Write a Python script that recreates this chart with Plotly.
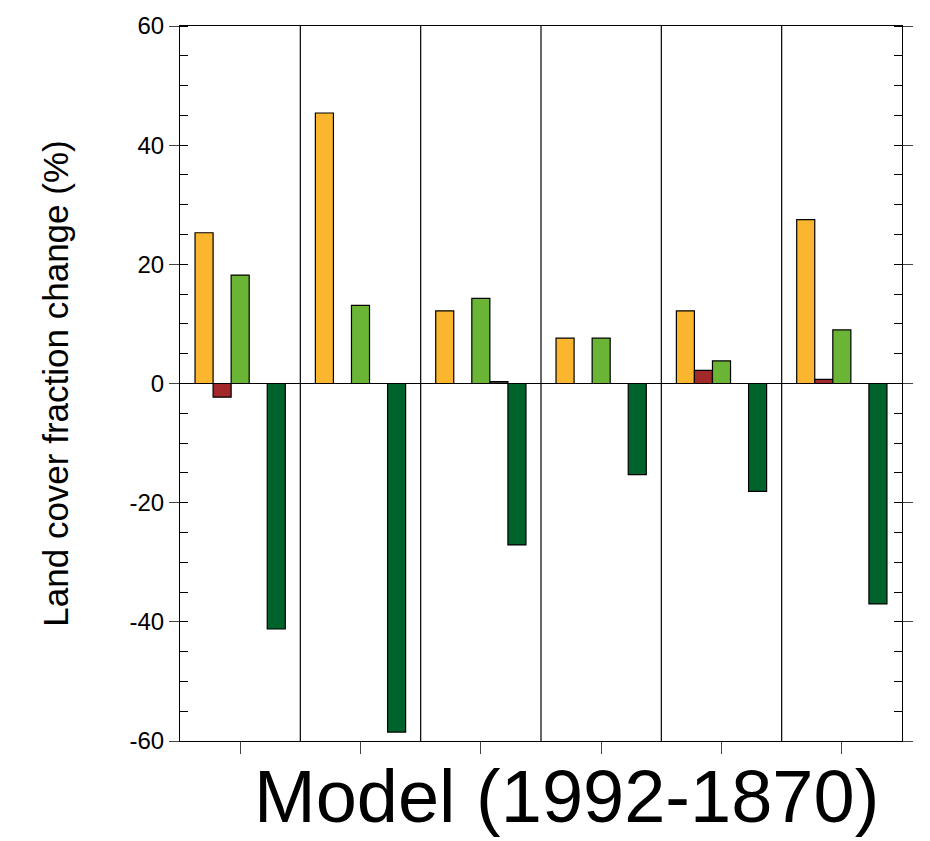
import plotly.graph_objects as go

groups = [0, 1, 2, 3, 4, 5]
orange = [25.3, 45.4, 12.2, 7.6, 12.2, 27.5]
red = [-2.3, 0.0, 0.0, 0.0, 2.2, 0.7]
light_green = [18.2, 13.1, 14.3, 7.6, 3.8, 9.0]
other = [0.0, 0.0, 0.3, 0.0, 0.0, 0.0]
dark_green = [-41.2, -58.5, -27.1, -15.3, -18.1, -37.0]
y_ticks = [-60, -40, -20, 0, 20, 40, 60]

fig = go.Figure()
for vals, col in [(orange, '#fbb52f'), (red, '#a3282a'), (light_green, '#6ab536'),
                  (other, '#444444'), (dark_green, '#00632c')]:
    fig.add_trace(go.Bar(x=groups, y=vals, marker=dict(color=col, line=dict(color='black', width=1.2)),
                         showlegend=False))

for b in [0.5, 1.5, 2.5, 3.5, 4.5]:
    fig.add_vline(x=b, line=dict(color='black', width=1.2))
fig.add_hline(y=0, line=dict(color='black', width=1.2))

# page is drawn 8px in from the corner, so margins compensate
fig.update_layout(
    width=930, height=841, barmode='group', bargap=0.25, bargroupgap=0,
    plot_bgcolor='white', paper_bgcolor='white',
    margin=dict(l=172, r=36, t=18, b=108, autoexpand=False),
    font=dict(family='Liberation Sans, Arial', color='black'),
)
fig.update_xaxes(range=[-0.5, 5.5], tickvals=groups, ticktext=['']*6, ticks='outside', ticklen=12,
                 showline=True, linecolor='black', linewidth=1.2, mirror=True, showgrid=False,
                 zeroline=False)
fig.update_yaxes(range=[-60, 60], tickvals=y_ticks, ticktext=[str(v) for v in y_ticks],
                 ticks='outside', ticklen=10,
                 tickfont=dict(size=24), showline=True, linecolor='black', linewidth=1.2,
                 mirror='ticks', showgrid=False, zeroline=False,
                 minor=dict(dtick=5, ticks='inside', ticklen=8, tickcolor='black'),
                 title=dict(text='Land cover fraction change (%)', font=dict(size=35), standoff=50))
fig.add_annotation(text='Model (1992-1870)', xref='paper', yref='paper', x=0.536, y=-0.078,
                   yanchor='middle', showarrow=False, font=dict(size=74))
fig.write_html("out.html")
